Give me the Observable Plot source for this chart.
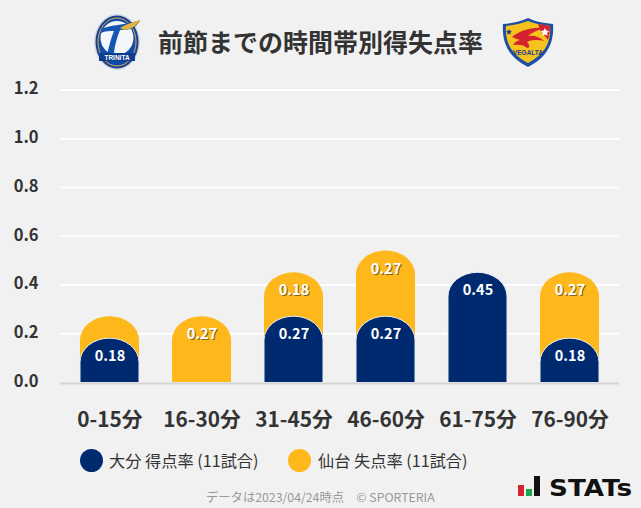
<!DOCTYPE html>
<html lang="ja">
<head>
<meta charset="utf-8">
<script src="https://cdn.jsdelivr.net/npm/d3@7"></script>
<script src="https://cdn.jsdelivr.net/npm/@observablehq/plot@0.6"></script>
<style>
html,body{margin:0;padding:0;background:#f1f1f1;}
body{width:641px;height:508px;overflow:hidden;font-family:"Noto Sans CJK JP","Noto Sans",sans-serif;color:#333;position:relative;}
#header{height:70px;position:relative;}
#title{position:absolute;left:158px;top:21px;font-size:25px;line-height:40px;font-weight:700;color:#333;white-space:nowrap;letter-spacing:0;}
.logo{position:absolute;}
#chart{height:370px;}
#chart svg{display:block;}
#legend{position:absolute;left:0;top:444px;width:641px;height:32px;font-size:16.2px;line-height:32px;color:#333;}
.sw{position:absolute;width:23px;height:23px;border-radius:50%;top:5px;}
.lt{position:absolute;top:0;white-space:nowrap;}
#foot{position:absolute;left:206px;top:487px;font-size:12.3px;line-height:20px;color:#999;white-space:nowrap;}
#stats{position:absolute;left:517px;top:474px;}
</style>
</head>
<body>
<div id="header">
  <svg class="logo" style="left:90px;top:12px" width="54" height="60" viewBox="0 0 54 60">
    <ellipse cx="27" cy="30" rx="23" ry="28" fill="#cfd8e8"/>
    <ellipse cx="27" cy="30" rx="21.5" ry="26.5" fill="#1d3f8e"/>
    <ellipse cx="27" cy="30" rx="19" ry="24" fill="#0f4ba8" stroke="#d9b24a" stroke-width="1"/>
    <ellipse cx="27" cy="26" rx="16.5" ry="17" fill="#f4f6fa"/>
    <path d="M11 17 C20 13 32 13 44 10 C48 9 50 8 50 8 C48 14 42 18 33 18 L30 18 C26 28 24 37 24 43 L17 43 C19 34 21 26 24 19 C20 19 15 19 11 21Z" fill="#1556b0"/>
    <path d="M30 16 C36 12 44 10 50 8 C48 13 42 17 34 18Z" fill="#e3b23a"/>
    <rect x="9" y="41" width="36" height="8" fill="#0f3c8c"/>
    <text x="27" y="47.5" font-size="6.5" font-weight="700" fill="#fff" text-anchor="middle" font-family="Liberation Sans">TRINITA</text>
  </svg>
  <div id="title">前節までの時間帯別得失点率</div>
  <svg class="logo" style="left:500px;top:16px" width="56" height="52" viewBox="0 0 56 52">
    <path d="M3 8 C14 7 22 5 28 2 C34 5 42 7 53 8 C54 24 50 40 28 51 C6 40 2 24 3 8Z" fill="#1d4fa5"/>
    <path d="M6 10 C15 9 23 7 28 5 C33 7 41 9 50 10 C51 24 47 37 28 47 C9 37 5 24 6 10Z" fill="#f5c21e"/>
    <path d="M12 21 C20 14 34 11 44 12 C36 15 31 17 28 20 C34 19 40 21 44 25 C36 23 30 24 27 26 C30 29 30 32 27 32 C25 29 19 28 13 29 C15 26 17 25 20 24 C17 23 14 22 12 21Z" fill="#d4222e"/>
    <path d="M38 8 L50 10 C50 16 49 20 48 24 L40 14Z" fill="#d4222e"/>
    <path d="M45 12 l1.3 2.6 2.8.3-2 2 .5 2.8-2.6-1.3-2.6 1.3.5-2.8-2-2 2.8-.3z" fill="#fff"/>
    <path d="M9 13 l.9 1.8 2 .3-1.4 1.4.3 2-1.8-.9-1.8.9.3-2-1.4-1.4 2-.3z" fill="#1d3f8e"/>
    <text x="28" y="39" font-size="6.5" font-weight="700" fill="#1d3f8e" text-anchor="middle" font-family="Liberation Sans">VEGALTA</text>
  </svg>
</div>
<div id="chart"></div>
<div id="legend">
  <span class="sw" style="left:80px;background:#002a6f"></span><span class="lt" style="left:109px">大分 得点率 (11試合)</span>
  <span class="sw" style="left:288px;background:#ffb81c"></span><span class="lt" style="left:318px">仙台 失点率 (11試合)</span>
</div>
<div id="foot">データは2023/04/24時点　© SPORTERIA</div>
<svg id="stats" width="120" height="26" viewBox="0 0 120 26">
  <rect x="1" y="11" width="6" height="11" fill="#d4222e"/>
  <rect x="9" y="15" width="6" height="7" fill="#1aa64a"/>
  <rect x="17" y="2" width="6" height="20" fill="#111"/>
  <text x="32" y="21.5" font-size="23" font-weight="700" fill="#111" font-family="DejaVu Sans" textLength="83" lengthAdjust="spacingAndGlyphs">STATs</text>
</svg>
<script>
const minutes = ["0-15分","16-30分","31-45分","46-60分","61-75分","76-90分"];
const oitaScored = [0.18,0,0.27,0.27,0.45,0.18];
const sendaiConceded = [0.09,0.27,0.18,0.27,0,0.27];
const sendaiLabelShown = [false,true,true,true,false,true];
const yTicks = [0,0.2,0.4,0.6,0.8,1.0,1.2];

const rows = minutes.map((m,i)=>({
  minute:m,
  oita:oitaScored[i],
  sendai:sendaiConceded[i],
  top:oitaScored[i]+sendaiConceded[i],
  showSendai:sendaiLabelShown[i]
}));
const domeOpts = {rx:29.5, ry:24, insetBottom:-40, clip:true};
const navyLabels = rows.filter(d=>d.oita>0);
const goldLabels = rows.filter(d=>d.showSendai);

const plot = Plot.plot({
  width:641, height:370,
  marginTop:19.5, marginBottom:58, marginLeft:60, marginRight:22,
  style:{background:"transparent", fontFamily:'"Noto Sans CJK JP","Noto Sans",sans-serif', color:"#333"},
  x:{domain:minutes, range:[63,615], paddingInner:0.36, paddingOuter:0.18, label:null},
  y:{domain:[0,1.2], label:null},
  marks:[
    Plot.ruleY(yTicks.filter(t=>t>0),{stroke:"#fff",strokeWidth:2}),
    Plot.ruleY([0],{stroke:"#d4d4d4",strokeWidth:2,dy:1}),
    Plot.axisY({ticks:yTicks,tickSize:0,tickPadding:22,tickFormat:d3.format(".1f"),fontSize:16.5,fontWeight:700,label:null,fill:"#333",dy:-1}),
    Plot.axisX({tickSize:0,tickPadding:30,fontSize:20.8,fontWeight:700,label:null,fill:"#333"}),
    Plot.barY(rows.filter(d=>d.sendai>0),{x:"minute",y1:0,y2:"top",fill:"#ffb81c",...domeOpts}),
    Plot.barY(rows.filter(d=>d.oita>0),{x:"minute",y1:0,y2:"oita",fill:"#002a6f",stroke:"#e6edf5",strokeWidth:1,...domeOpts}),
    Plot.text(goldLabels,{x:"minute",y:"top",text:d=>d.sendai.toFixed(2),dy:19,dx:1,fill:"#5a4a20",fillOpacity:0.8,fontSize:14.5,fontWeight:700}),
    Plot.text(goldLabels,{x:"minute",y:"top",text:d=>d.sendai.toFixed(2),dy:18,fill:"#fff",fontSize:14.5,fontWeight:700}),
    Plot.text(navyLabels,{x:"minute",y:"oita",text:d=>d.oita.toFixed(2),dy:18,fill:"#fff",fontSize:14.5,fontWeight:700})
  ]
});
document.getElementById("chart").append(plot);
</script>
</body>
</html>
